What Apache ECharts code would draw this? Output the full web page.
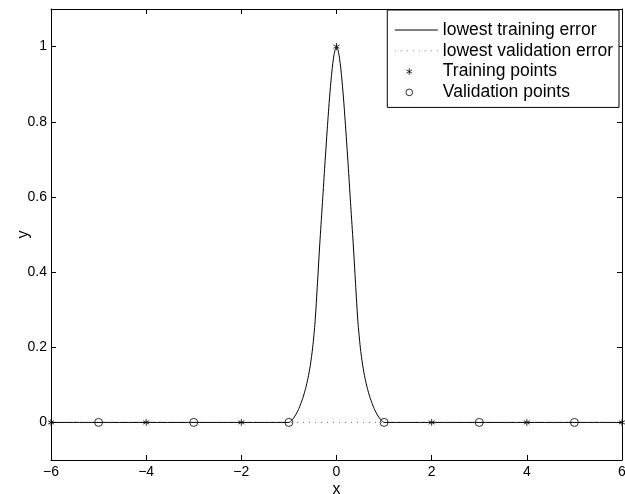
<!DOCTYPE html>
<html>
<head>
<meta charset="utf-8">
<script src="https://cdn.jsdelivr.net/npm/echarts@6/dist/echarts.min.js"></script>
<style>
html,body{margin:0;padding:0;background:#fff;}
#chart{width:625px;height:494px;}
</style>
</head>
<body>
<div id="chart"></div>
<script>
// ---- data ----
var curveX = [-6, -1, -0.95, -0.9, -0.85, -0.8, -0.75, -0.7, -0.65, -0.6, -0.55, -0.5, -0.45, -0.4, -0.35, -0.3, -0.25, -0.2, -0.15, -0.1, -0.05,
              0, 0.05, 0.1, 0.15, 0.2, 0.25, 0.3, 0.35, 0.4, 0.45, 0.5, 0.55, 0.6, 0.65, 0.7, 0.75, 0.8, 0.85, 0.9, 0.95, 1, 6];
var curveY = [0, 0, 0.005, 0.012, 0.022, 0.034, 0.050, 0.068, 0.090, 0.117, 0.152, 0.200, 0.268, 0.370, 0.478, 0.575, 0.675, 0.770, 0.858, 0.930, 0.980,
              1, 0.980, 0.930, 0.858, 0.770, 0.675, 0.575, 0.478, 0.370, 0.268, 0.200, 0.152, 0.117, 0.090, 0.068, 0.050, 0.034, 0.022, 0.012, 0.005, 0, 0];
var validLineX = [-6, 6];
var validLineY = [0, 0];
var trainX = [-6, -4, -2, 0, 2, 4, 6];
var trainY = [0, 0, 0, 1, 0, 0, 0];
var validX = [-5, -3, -1, 1, 3, 5];
var validY = [0, 0, 0, 0, 0, 0];
var yTicks = [0, 0.2, 0.4, 0.6, 0.8, 1];
var seriesNames = ['lowest training error', 'lowest validation error', 'Training points', 'Validation points'];

function zip(a, b) { return a.map(function (v, i) { return [v, b[i]]; }); }

var FONT = '"Liberation Sans", Arial, Helvetica, sans-serif';
var asterisk = 'path://M0,-5L0,5M-4.33,-2.5L4.33,2.5M-4.33,2.5L4.33,-2.5';
// legend icons: same glyphs, padded so they sit left in the icon box
var asteriskIcon = 'path://M-9,-9M27,9M0,-4.3L0,4.3M-3.7,-2.15L3.7,2.15M-3.7,2.15L3.7,-2.15';
var circleIcon = 'path://M-9,-9M27,9M4.3,0A4.3,4.3 0 1 1 -4.3,0A4.3,4.3 0 1 1 4.3,0Z';
var hiddenItem = {color: 'rgba(0,0,0,0)', borderColor: 'rgba(0,0,0,0)', borderWidth: 0};
var markerItem = {color: 'rgba(0,0,0,0)', borderColor: '#000', borderWidth: 1};

function fmt(v) { return String(v).replace('-', '\u2212'); }

var chart = echarts.init(document.getElementById('chart'), null, {renderer: 'canvas'});

function xAx(pos, show) {
  return {
    type: 'value', min: -6, max: 6, interval: 2, position: pos,
    axisLine: {show: true, onZero: false, lineStyle: {color: '#000', width: 1}},
    axisTick: {show: true, inside: true, length: 5, lineStyle: {color: '#000'}},
    axisLabel: {show: show, color: '#000', fontSize: 14, fontFamily: FONT, margin: 5, formatter: fmt},
    splitLine: {show: false},
    name: show ? 'x' : '', nameLocation: 'middle', nameGap: 22, nameMoveOverlap: false,
    nameTextStyle: {color: '#000', fontSize: 16, fontFamily: FONT}
  };
}
function yAx(pos, show) {
  return {
    type: 'value', min: -0.1, max: 1.1, position: pos,
    axisLine: {show: true, onZero: false, lineStyle: {color: '#000', width: 1}},
    axisTick: {show: true, inside: true, length: 5, customValues: yTicks, lineStyle: {color: '#000'}},
    axisLabel: {show: show, color: '#000', fontSize: 14, fontFamily: FONT, margin: 4, customValues: yTicks, formatter: fmt},
    splitLine: {show: false},
    name: show ? 'y' : '', nameLocation: 'middle', nameGap: 19, nameMoveOverlap: false,
    nameTextStyle: {color: '#000', fontSize: 16, fontFamily: FONT}
  };
}

chart.setOption({
  animation: false,
  backgroundColor: '#fff',
  grid: {left: 51, right: 3, top: 9, bottom: 34, containLabel: false, outerBoundsMode: 'none'},
  xAxis: [xAx('bottom', true), xAx('top', false)],
  yAxis: [yAx('left', true), yAx('right', false)],
  legend: {
    data: [
      {name: seriesNames[0], itemStyle: hiddenItem, lineStyle: {width: 1, color: '#000'}},
      {name: seriesNames[1], itemStyle: hiddenItem, lineStyle: {width: 1, color: '#777', type: [1, 5]}},
      {name: seriesNames[2], icon: asteriskIcon, itemStyle: markerItem},
      {name: seriesNames[3], icon: circleIcon, itemStyle: markerItem}
    ],
    orient: 'vertical', right: 6, top: 10, align: 'left',
    padding: [11, 6, 6, 7], itemGap: 2.8, itemWidth: 43, itemHeight: 14,
    borderColor: '#000', borderWidth: 1, borderRadius: 0, backgroundColor: '#fff',
    textStyle: {color: '#000', fontSize: 17.5, fontFamily: FONT}
  },
  series: [
    {
      name: seriesNames[0], type: 'line', data: zip(curveX, curveY),
      showSymbol: false, symbol: 'none', smooth: 0.25,
      lineStyle: {color: '#000', width: 1}, itemStyle: {color: '#000'}, z: 2
    },
    {
      name: seriesNames[1], type: 'line', data: zip(validLineX, validLineY),
      showSymbol: false, symbol: 'none',
      lineStyle: {color: '#777', width: 1, type: [1, 5]}, itemStyle: {color: '#777'}, z: 1
    },
    {
      name: seriesNames[2], type: 'scatter', data: zip(trainX, trainY),
      symbol: asterisk, symbolSize: 7, symbolKeepAspect: true, clip: false,
      itemStyle: {color: 'none', borderColor: '#000', borderWidth: 1}, z: 3
    },
    {
      name: seriesNames[3], type: 'scatter', data: zip(validX, validY),
      symbol: 'circle', symbolSize: 8, clip: false,
      itemStyle: {color: 'rgba(0,0,0,0)', borderColor: '#000', borderWidth: 1}, z: 3
    }
  ]
});
</script>
</body>
</html>
